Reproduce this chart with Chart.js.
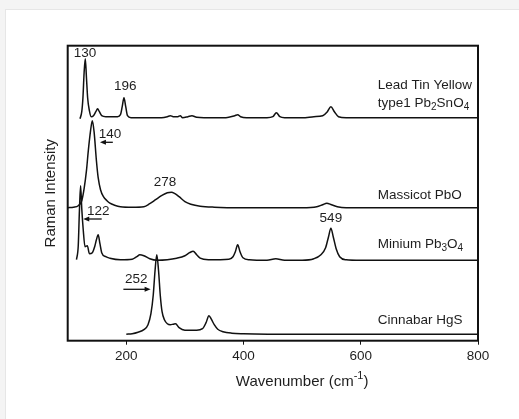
<!DOCTYPE html>
<html>
<head>
<meta charset="utf-8">
<script src="https://cdn.jsdelivr.net/npm/chart.js@4.4.1/dist/chart.umd.min.js"></script>
<style>
  html, body { margin: 0; padding: 0; width: 519px; height: 419px; background: #f4f4f4; overflow: hidden; }
  .card { position: absolute; left: 5px; top: 9px; right: 0; bottom: 0; background: #fff; border-left: 1px solid #e6e6e6; border-top: 1px solid #e6e6e6; }
  #chart { position: absolute; left: 0; top: 0; width: 519px; height: 419px; }
</style>
</head>
<body>
<div class="card"></div>
<canvas id="chart" width="519" height="419"></canvas>
<script>
// spectra, stacked (intensity already includes each trace's offset)
const ltyX = [121, 124, 126, 128, 130, 132, 134, 137, 140, 144, 148, 151, 154, 158, 165, 175, 185, 190, 193, 196, 199, 202, 208, 230, 260, 270, 275, 280, 288, 292, 296, 305, 312, 320, 350, 370, 385, 390, 395, 405, 440, 450, 456, 462, 470, 500, 520, 535, 543, 549, 555, 562, 575, 600, 650, 700, 750, 800];
const ltyY = [222, 229, 243, 268, 282, 263, 243, 230, 224, 225, 229, 232, 229, 225, 224, 224, 224, 226, 234, 243, 234, 225, 223, 223, 223, 224, 225, 224, 224, 225, 223, 224, 225, 223.5, 223, 223, 225, 226, 224, 223, 223, 224, 228, 224, 223, 223, 224, 225, 229, 234, 229, 224, 223, 223, 223, 223, 223, 223];

const masX = [100, 110, 118, 124, 128, 132, 135, 139, 142, 145, 149, 152, 156, 161, 167, 172, 180, 190, 210, 230, 240, 250, 260, 270, 277, 283, 290, 300, 310, 326, 350, 400, 450, 500, 525, 535, 542, 550, 560, 575, 650, 720, 800];
const masY = [133, 133.5, 135, 140, 152, 170, 189, 210, 220, 209, 180, 163, 151, 144, 140, 137.5, 135.5, 134, 133.5, 134, 137, 141, 145, 148, 148.5, 147, 144, 139, 136.5, 134.5, 133.5, 133, 133, 133, 134, 136, 137.5, 136, 134, 133, 133, 133, 133];

const minX = [115, 118, 120, 122, 124, 126.5, 129.5, 133.5, 137, 142, 146, 149, 152, 155, 158, 165, 172, 190, 210, 218, 223, 230, 240, 252, 270, 286, 300, 308, 314, 320, 326, 340, 375, 382, 386, 390, 394, 399, 410, 440, 455, 470, 500, 520, 532, 540, 545, 549, 553, 558, 564, 575, 600, 700, 800];
const minY = [81, 95, 130, 155, 132, 111, 94, 95, 87, 88, 94, 101, 106, 97, 88, 84, 82.5, 81, 81.5, 84, 86, 85, 82, 80.5, 81, 82.5, 85, 88, 89.5, 86, 82.5, 81, 81.5, 84, 89, 96, 89, 83, 81, 80.5, 82, 80.5, 80.5, 82, 86, 93, 104, 112.5, 104, 92, 84, 81, 80.5, 80.5, 80.5];

const cinX = [200, 210, 220, 230, 237, 242, 246, 249, 252, 255, 258, 261, 265, 270, 275, 280, 284, 290, 300, 320, 330, 336, 341, 345, 350, 356, 365, 380, 400, 500, 600, 700, 800];
const cinY = [6.5, 7, 8.5, 11, 16, 27, 46, 70, 86, 70, 45, 29, 21, 17, 16, 16.5, 17, 13, 10.5, 10.5, 12, 18, 25, 21.5, 16, 11.5, 9, 7.5, 7, 6.5, 6.5, 6.5, 6.5];

const xTicks = [200, 400, 600, 800];

// trace names, placed in data units
const names = ['Lead Tin Yellow', 'type1 Pb_2SnO_4', 'Massicot PbO', 'Minium Pb_3O_4', 'Cinnabar HgS'];
const nameY = [255.4, 237.4, 145.7, 96.7, 20.7];
const nameX = 629;

// peak positions written on the plot
const peakText = ['130', '196', '140', '278', '122', '549', '252'];
const peakX = [129.5, 198, 172, 266, 152, 549, 217];
const peakY = [287, 254, 206, 158, 129, 122, 61];

// little arrows under 140, 122, 252
const arrowFrom = [177, 158, 195];
const arrowTo = [155, 126.5, 241.5];
const arrowY = [198.4, 121.7, 51.4];

const FONT = '"Liberation Sans", Arial, Helvetica, sans-serif';
const INK = '#111';
const TEXT = '#1e1e1e';

function segs(str) {
  const out = [];
  const re = /_(\d)|\^\{([^}]*)\}/g;
  let last = 0, m;
  while ((m = re.exec(str))) {
    if (m.index > last) out.push({ t: str.slice(last, m.index), k: 0 });
    if (m[1] !== undefined) out.push({ t: m[1], k: -1 });
    else out.push({ t: m[2], k: 1 });
    last = re.lastIndex;
  }
  if (last < str.length) out.push({ t: str.slice(last), k: 0 });
  return out;
}

function richText(ctx, str, x, y, size, align) {
  const parts = segs(str);
  const fontFor = k => `${k ? Math.round(size * 0.72) : size}px ${FONT}`;
  let w = 0;
  for (const p of parts) { ctx.font = fontFor(p.k); w += ctx.measureText(p.t).width; }
  let cx = align === 'center' ? x - w / 2 : x;
  ctx.textAlign = 'left';
  ctx.textBaseline = 'middle';
  for (const p of parts) {
    ctx.font = fontFor(p.k);
    const dy = p.k < 0 ? size * 0.3 : p.k > 0 ? -size * 0.38 : 0;
    ctx.fillText(p.t, cx, y + dy);
    cx += ctx.measureText(p.t).width;
  }
}

function arrow(ctx, x1, x2, y) {
  const dir = Math.sign(x2 - x1);
  ctx.beginPath();
  ctx.moveTo(x1, y);
  ctx.lineTo(x2 - dir * 4, y);
  ctx.stroke();
  ctx.beginPath();
  ctx.moveTo(x2, y);
  ctx.lineTo(x2 - dir * 6, y - 2.5);
  ctx.lineTo(x2 - dir * 6, y + 2.5);
  ctx.closePath();
  ctx.fill();
}

const decor = {
  id: 'decor',
  afterDatasetsDraw(chart) {
    const { ctx, chartArea: a, scales: { x, y } } = chart;
    ctx.save();
    ctx.strokeStyle = INK;
    ctx.lineWidth = 2;
    ctx.strokeRect(a.left, a.top, a.right - a.left, a.bottom - a.top);

    ctx.fillStyle = TEXT;
    names.forEach((n, i) => richText(ctx, n, x.getPixelForValue(nameX), y.getPixelForValue(nameY[i]), 13.5, 'left'));
    peakText.forEach((t, i) => richText(ctx, t, x.getPixelForValue(peakX[i]), y.getPixelForValue(peakY[i]), 13.5, 'center'));

    ctx.strokeStyle = INK;
    ctx.fillStyle = INK;
    ctx.lineWidth = 1.3;
    arrowFrom.forEach((f, i) => arrow(ctx, x.getPixelForValue(f), x.getPixelForValue(arrowTo[i]), y.getPixelForValue(arrowY[i])));

    ctx.fillStyle = TEXT;
    richText(ctx, 'Wavenumber (cm^{-1})', x.getPixelForValue(500), a.bottom + 41, 15, 'center');
    ctx.translate(a.left - 17, (a.top + a.bottom) / 2);
    ctx.rotate(-Math.PI / 2);
    richText(ctx, 'Raman Intensity', 0, 0, 15, 'center');
    ctx.restore();
  }
};

function trace(xs, ys) {
  return {
    data: xs.map((v, i) => ({ x: v, y: ys[i] })),
    borderColor: INK,
    borderWidth: 1.5,
    pointRadius: 0,
    fill: false,
    cubicInterpolationMode: 'monotone'
  };
}

new Chart(document.getElementById('chart'), {
  type: 'line',
  data: {
    datasets: [trace(ltyX, ltyY), trace(masX, masY), trace(minX, minY), trace(cinX, cinY)]
  },
  options: {
    responsive: false,
    animation: false,
    layout: { padding: { left: 67.7, top: 45.7, right: 41, bottom: 0 } },
    plugins: { legend: { display: false }, tooltip: { enabled: false } },
    scales: {
      x: {
        type: 'linear',
        min: 100,
        max: 800,
        afterBuildTicks: s => { s.ticks = xTicks.map(v => ({ value: v })); },
        afterFit: s => { s.height = 78.3; },
        ticks: { color: TEXT, font: { family: FONT, size: 13.5 }, padding: 3, maxRotation: 0 },
        grid: { drawOnChartArea: false, tickLength: 4, color: INK, lineWidth: 1 },
        border: { display: false }
      },
      y: { display: false, min: 0, max: 295 }
    }
  },
  plugins: [decor]
});
</script>
</body>
</html>
